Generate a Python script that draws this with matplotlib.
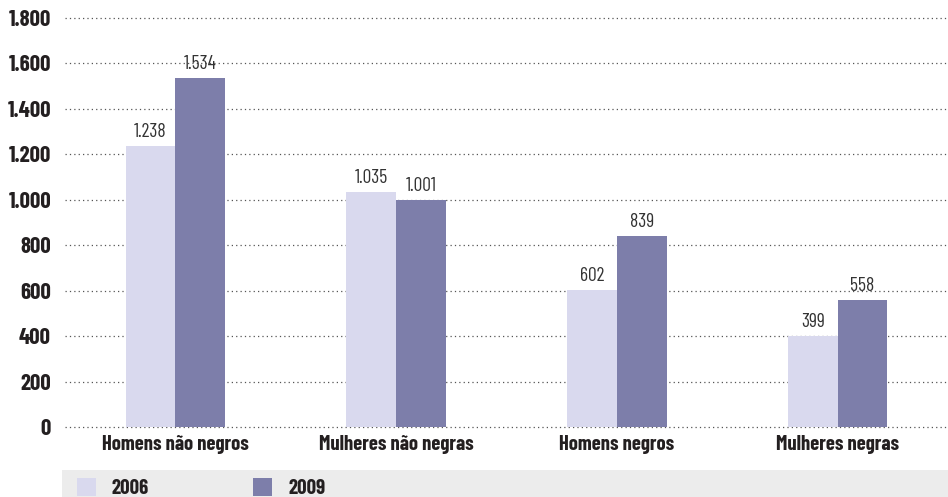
import numpy as np
import matplotlib.pyplot as plt
from matplotlib.patches import Rectangle, Patch

categories = ['Homens não negros', 'Mulheres não negras', 'Homens negros', 'Mulheres negras']
values_2006 = [1238, 1035, 602, 399]
values_2009 = [1534, 1001, 839, 558]
years = ['2006', '2009']
yticks = [0, 200, 400, 600, 800, 1000, 1200, 1400, 1600, 1800]
ytick_labels = ['0', '200', '400', '600', '800', '1.000', '1.200', '1.400', '1.600', '1.800']

c_light = '#d9d9ee'
c_dark = '#7d7eaa'
c_text = '#231f20'

plt.rcParams['font.family'] = ['Barlow Condensed', 'Roboto Condensed', 'DejaVu Sans']

def fmt(v):
    return f'{v:,}'.replace(',', '.')

fig = plt.figure(figsize=(9.48, 4.97), dpi=100)
ax = fig.add_axes([65 / 948, 70 / 497, 883 / 948, 409 / 497])

x = np.arange(len(categories))
w = 0.225
b1 = ax.bar(x - w / 2, values_2006, w, color=c_light, zorder=2)
b2 = ax.bar(x + w / 2, values_2009, w, color=c_dark, zorder=2)

for bars, vals in ((b1, values_2006), (b2, values_2009)):
    for r, v in zip(bars, vals):
        ax.text(r.get_x() + r.get_width() / 2, v + 22, fmt(v), ha='center', va='bottom',
                fontsize=14, fontweight=400, color='#333333', zorder=3)

ax.set_xlim(-0.5, 3.5)
ax.set_ylim(0, 1800)
ax.set_yticks(yticks)
ax.set_yticklabels(ytick_labels, fontsize=16.5, fontweight=700, color=c_text)
ax.set_xticks(x)
ax.set_xticklabels(categories, fontsize=14.8, fontweight=700, color=c_text)
ax.tick_params(length=0)
ax.tick_params(axis='y', pad=10)
ax.tick_params(axis='x', pad=6)
for s in ax.spines.values():
    s.set_visible(False)
ax.yaxis.grid(True, linestyle=(0, (1, 2.5)), color='#555555', linewidth=0.9, zorder=0)
for gl in ax.get_ygridlines():
    gl.set_clip_on(False)

# legend band
fig.patches.append(Rectangle((62 / 948, 0), 886 / 948, 27 / 497, transform=fig.transFigure,
                             facecolor='#ececec', edgecolor='none', zorder=0))
handles = [Patch(facecolor=c_light), Patch(facecolor=c_dark)]
leg = fig.legend(handles, years, loc='lower left', bbox_to_anchor=(77 / 948, -1 / 497),
                 ncol=2, frameon=False, borderpad=0, borderaxespad=0,
                 handlelength=0.91, handleheight=0.91,
                 columnspacing=5.0, handletextpad=0.77,
                 prop={'size': 15, 'weight': 700})
for t in leg.get_texts():
    t.set_color(c_text)

fig.savefig('out.png', dpi=100)
